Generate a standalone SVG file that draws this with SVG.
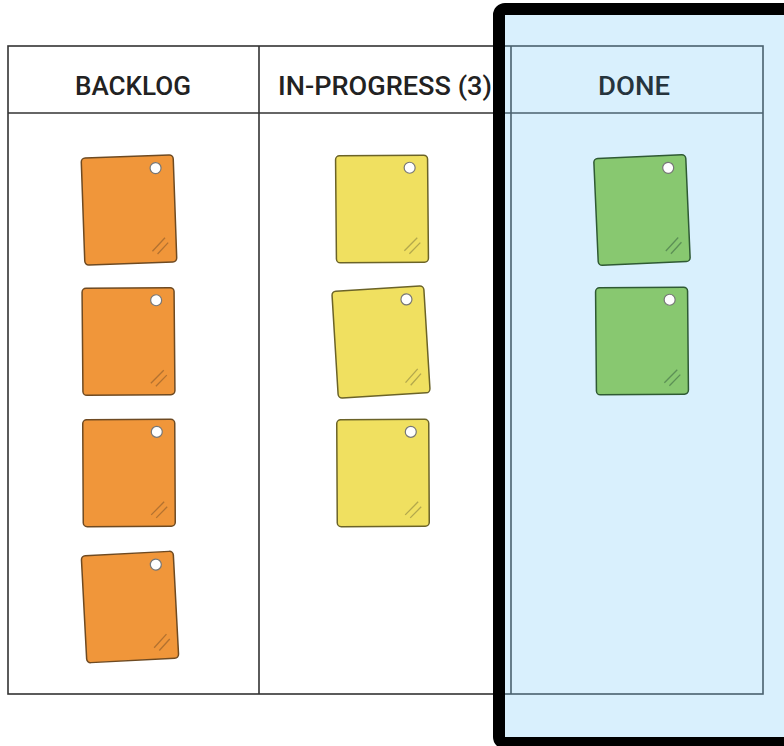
<svg xmlns="http://www.w3.org/2000/svg" width="784" height="746" viewBox="0 0 784 746">
<style>
.tbl{fill:none;stroke:#333;stroke-width:1.6}
.hd{font-family:Roboto,"Liberation Sans",sans-serif;font-size:25.5px;font-weight:500;fill:#222;text-anchor:middle}
.pin{fill:#fff;stroke:#777;stroke-width:1.2}
.gl{stroke:currentColor;stroke-opacity:0.6;stroke-width:1.3;fill:none}
.nb{stroke-width:1.5}
.or{fill:#f0963a;stroke:#6e4a22;color:#8a5a2a}
.ye{fill:#f0e060;stroke:#6b6328;color:#8a8240}
.gr{fill:#88c870;stroke:#2f5a34;color:#3f6a44}
</style>
<defs>
<g id="note">
<rect class="nb" x="-46" y="-53.5" width="92" height="107" rx="4"/>
<circle class="pin" cx="28" cy="-41" r="5.5"/>
<path class="gl" d="M22 42 L35 29 M27 45 L38 34"/>
</g>
</defs>
<rect x="0" y="0" width="784" height="746" fill="#fff"/>
<g id="board">
<rect class="tbl" x="8" y="46" width="755" height="648"/>
<line class="tbl" x1="8" y1="113" x2="763" y2="113"/>
<line class="tbl" x1="259" y1="46" x2="259" y2="694"/>
<line class="tbl" x1="511" y1="46" x2="511" y2="694"/>
<text class="hd" x="133" y="95" textLength="116" lengthAdjust="spacingAndGlyphs">BACKLOG</text>
<text class="hd" x="385" y="95" textLength="214" lengthAdjust="spacingAndGlyphs">IN-PROGRESS (3)</text>
</g>
<g id="highlight-fill">
<rect x="499" y="9" width="300" height="734" rx="6" fill="#80cdf8" fill-opacity="0.3"/>
</g>
<text class="hd" x="634" y="95" textLength="72" lengthAdjust="spacingAndGlyphs" style="fill:#26343d">DONE</text>
<g id="backlog-1" class="or"><use href="#note" transform="translate(129,210) rotate(-2)"/></g>
<g id="backlog-2" class="or"><use href="#note" transform="translate(128.5,341.5) rotate(-0.5)"/></g>
<g id="backlog-3" class="or"><use href="#note" transform="translate(129,473) rotate(-0.3)"/></g>
<g id="backlog-4" class="or"><use href="#note" transform="translate(130,607) rotate(-3)"/></g>
<g id="inprogress-1" class="ye"><use href="#note" transform="translate(382,209) rotate(-0.5)"/></g>
<g id="inprogress-2" class="ye"><use href="#note" transform="translate(381,342) rotate(-3.5)"/></g>
<g id="inprogress-3" class="ye"><use href="#note" transform="translate(383,473) rotate(-0.3)"/></g>
<g id="done-1" class="gr"><use href="#note" transform="translate(642,210) rotate(-2.5)"/></g>
<g id="done-2" class="gr"><use href="#note" transform="translate(642,341) rotate(-0.5)"/></g>
<g id="highlight-border">
<rect x="499" y="9" width="300" height="734" rx="6" fill="none" stroke="#000" stroke-width="12"/>
</g>
<g id="connectors"/>
</svg>
